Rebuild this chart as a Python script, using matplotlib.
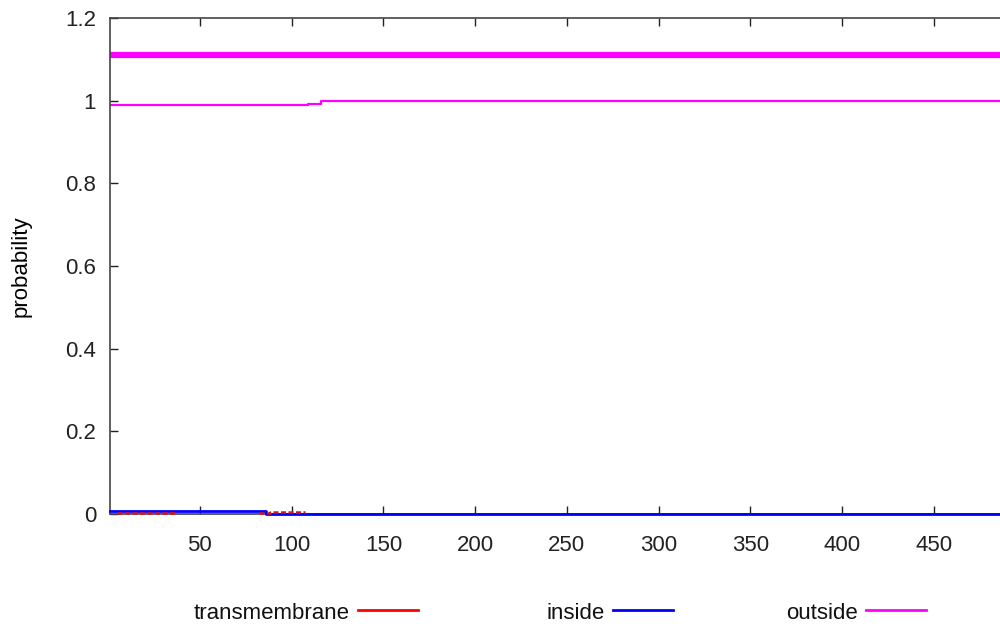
import numpy as np
import matplotlib.pyplot as plt
from matplotlib.lines import Line2D

plt.rcParams['font.family'] = ['Liberation Sans', 'DejaVu Sans']

seq_len = 486

# posterior probabilities (step functions along the sequence)
tm_pos = [1, 5, 37, 82, 88, 107, seq_len]
tm_prob = [0.0, 0.002, 0.0, 0.003, 0.006, 0.0, 0.0]
in_pos = [1, 86, seq_len]
in_prob = [0.007, 0.0, 0.0]
out_pos = [1, 109, 116, seq_len]
out_prob = [0.99, 0.993, 1.0, 1.0]

# predicted topology bar drawn above the curves
topo_start = [1]
topo_end = [seq_len]
topo_level = 1.11

names = ['transmembrane', 'inside', 'outside']
colors = ['#ff0000', '#0000ff', '#ff00ff']

fig = plt.figure(figsize=(10, 6.24), dpi=100)
ax = fig.add_axes([0.11, 0.176, 0.89, 0.795])

# only the non-zero stretches of the transmembrane curve are drawn
tm_vals = np.ma.masked_equal(np.array(tm_prob), 0.0)
ax.plot(tm_pos, tm_vals, color='#dd1111', lw=1.8, ls=(0, (2, 1)),
        drawstyle='steps-post', clip_on=False, zorder=5)
ax.plot(in_pos, in_prob, color=colors[1], lw=2.0, drawstyle='steps-post',
        clip_on=False, zorder=4)
ax.plot(out_pos, out_prob, color=colors[2], lw=1.6, drawstyle='steps-post')
for s, e in zip(topo_start, topo_end):
    ax.plot([s, e], [topo_level, topo_level], color=colors[2], lw=4.5, solid_capstyle='butt')

ax.set_xlim(1, seq_len)
ax.set_ylim(0, 1.2)
ax.set_xticks(np.arange(50, 451, 50))
ax.set_yticks([0, 0.2, 0.4, 0.6, 0.8, 1, 1.2])
ax.set_yticklabels(['0', '0.2', '0.4', '0.6', '0.8', '1', '1.2'])
ax.tick_params(direction='in', length=6, width=1, labelsize=16, top=True, colors='#222222')
ax.tick_params(axis='x', pad=15)
ax.tick_params(axis='y', pad=10)
ax.spines['right'].set_visible(False)
for sp in ['left', 'top', 'bottom']:
    ax.spines[sp].set_color('#444444')
    ax.spines[sp].set_linewidth(1.2)
ax.set_ylabel('probability', fontsize=16, labelpad=24)

# key below the plot: label followed by a short line sample
key_x = [0.35, 0.605, 0.858]
for name, c, x in zip(names, colors, key_x):
    fig.text(x, 0.008, name, ha='right', va='baseline', fontsize=16, color='#111111')
    fig.add_artist(Line2D([x + 0.008, x + 0.068], [0.0224] * 2,
                          color=c, lw=2, transform=fig.transFigure))

fig.savefig('out.png', dpi=100)
